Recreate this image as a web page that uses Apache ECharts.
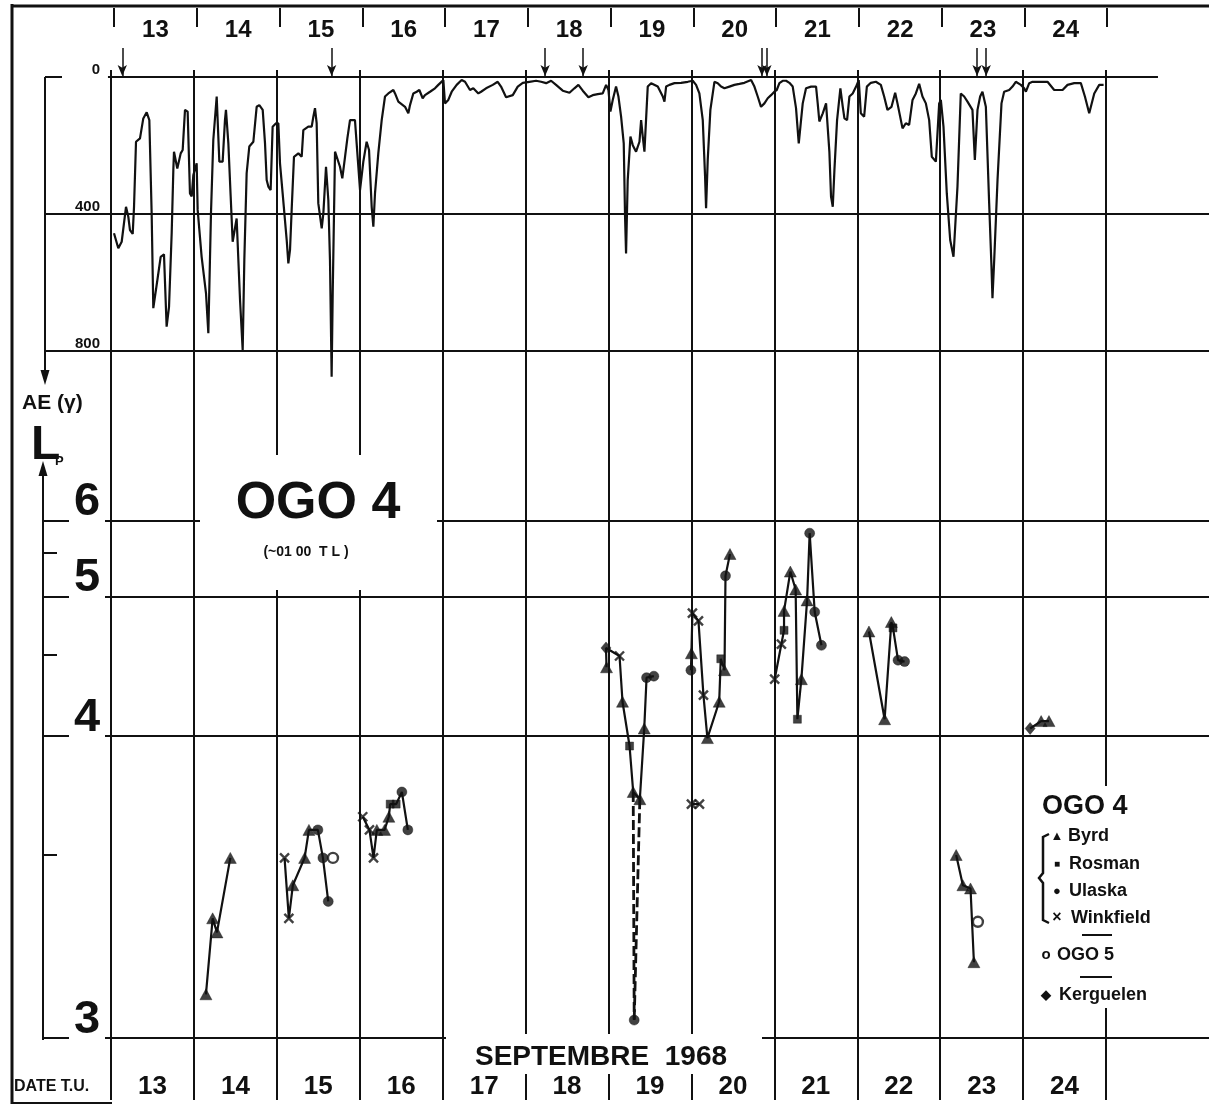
<!DOCTYPE html>
<html>
<head>
<meta charset="utf-8">
<title>AE et Lp - OGO 4, septembre 1968</title>
<script src="https://cdn.jsdelivr.net/npm/echarts@6/dist/echarts.min.js"></script>
<style>
html, body { margin: 0; padding: 0; background: #fff; }
#main { width: 1209px; height: 1106px; }
</style>
</head>
<body>
<div id="main"></div>
<script>
// jours de septembre 1968 (T.U.)
var dayTicks = [13, 14, 15, 16, 17, 18, 19, 20, 21, 22, 23, 24, 25];
var dayMid = [13.5, 14.5, 15.5, 16.5, 17.5, 18.5, 19.5, 20.5, 21.5, 22.5, 23.5, 24.5];

// graduations
var aeTicks = [0, 400, 800];
var lpMajor = [3, 4, 5, 6];
var lpMinor = [3.5, 4.5, 5.5];

// fleches au-dessus de la courbe AE (jour)
var aeArrows = [13.10, 15.63, 18.21, 18.67, 20.83, 20.89, 23.43, 23.54];

// indice AE (gammas) : [jour, AE]
var aeData = [
  [13.000,456],[13.052,500],[13.093,481],[13.145,379],[13.173,408],[13.193,447],[13.226,458],[13.242,379],
  [13.266,189],[13.314,179],[13.354,121],[13.395,103],[13.427,126],[13.455,398],[13.475,675],[13.524,593],
  [13.564,525],[13.604,518],[13.636,729],[13.665,671],[13.697,456],[13.717,272],[13.725,218],[13.765,267],
  [13.806,223],[13.830,213],[13.858,96],[13.890,101],[13.918,340],[13.939,349],[13.959,286],[13.999,252],
  [14.011,388],[14.059,525],[14.112,632],[14.140,748],[14.172,398],[14.200,184],[14.241,57],[14.273,247],
  [14.313,247],[14.341,126],[14.353,96],[14.382,194],[14.410,349],[14.434,481],[14.482,413],[14.523,651],
  [14.555,797],[14.575,534],[14.603,281],[14.635,203],[14.684,189],[14.724,87],[14.756,82],[14.797,96],
  [14.825,194],[14.845,301],[14.865,320],[14.893,330],[14.917,145],[14.958,135],[14.986,135],[15.006,252],
  [15.038,340],[15.087,476],[15.107,544],[15.127,505],[15.147,388],[15.175,233],[15.228,223],[15.268,233],
  [15.288,155],[15.348,145],[15.389,145],[15.409,116],[15.429,91],[15.449,135],[15.469,369],[15.510,442],
  [15.530,398],[15.562,262],[15.590,359],[15.610,534],[15.630,875],[15.643,632],[15.671,218],[15.691,218],
  [15.731,262],[15.759,296],[15.792,233],[15.820,179],[15.852,126],[15.912,126],[15.933,130],[15.973,330],
  [16.013,247],[16.053,189],[16.082,213],[16.114,379],[16.134,437],[16.154,340],[16.194,223],[16.235,126],
  [16.275,57],[16.315,48],[16.376,38],[16.396,48],[16.436,72],[16.456,67],[16.517,87],[16.557,106],
  [16.577,82],[16.617,48],[16.658,43],[16.690,38],[16.730,62],[16.758,53],[16.819,43],[16.879,33],
  [16.919,23],[16.980,9],[17.000,77],[17.040,67],[17.081,43],[17.141,23],[17.201,9],[17.242,14],
  [17.302,38],[17.342,33],[17.403,48],[17.436,43],[17.496,33],[17.577,23],[17.637,14],[17.677,28],
  [17.738,59],[17.819,53],[17.879,28],[17.940,17],[18.020,14],[18.101,11],[18.161,14],[18.222,18],
  [18.282,11],[18.342,23],[18.423,40],[18.504,46],[18.564,33],[18.612,23],[18.665,40],[18.733,59],
  [18.785,53],[18.846,50],[18.906,48],[18.947,23],[18.975,38],[18.999,101],[19.027,67],[19.067,28],
  [19.096,57],[19.128,116],[19.160,194],[19.176,408],[19.188,515],[19.208,301],[19.241,174],[19.269,199],
  [19.309,218],[19.350,189],[19.370,126],[19.390,174],[19.410,218],[19.450,28],[19.491,18],[19.571,28],
  [19.632,57],[19.652,72],[19.672,28],[19.712,23],[19.773,18],[19.853,17],[19.934,14],[19.994,11],
  [20.034,23],[20.074,48],[20.115,126],[20.143,291],[20.155,383],[20.175,242],[20.207,96],[20.256,14],
  [20.296,18],[20.336,28],[20.377,33],[20.437,28],[20.497,23],[20.558,20],[20.618,17],[20.699,9],
  [20.739,28],[20.779,57],[20.819,87],[20.860,77],[20.900,62],[20.940,53],[20.980,43],[21.009,38],
  [21.041,18],[21.081,11],[21.122,11],[21.162,17],[21.202,28],[21.242,91],[21.275,194],[21.295,145],
  [21.323,77],[21.363,33],[21.424,28],[21.484,28],[21.504,77],[21.524,130],[21.565,106],[21.605,77],
  [21.645,218],[21.665,349],[21.686,379],[21.706,272],[21.738,126],[21.778,33],[21.807,87],[21.827,121],
  [21.859,126],[21.887,57],[21.927,48],[21.968,28],[22.000,9],[22.025,106],[22.065,116],[22.098,28],
  [22.146,17],[22.207,14],[22.267,23],[22.307,57],[22.347,96],[22.396,87],[22.440,46],[22.468,77],
  [22.529,150],[22.569,135],[22.609,140],[22.650,67],[22.690,48],[22.730,20],[22.770,57],[22.811,77],
  [22.851,126],[22.883,233],[22.932,247],[22.972,77],[22.992,67],[23.024,145],[23.064,340],[23.105,476],
  [23.145,525],[23.193,320],[23.233,48],[23.274,57],[23.314,72],[23.374,96],[23.403,242],[23.435,96],
  [23.467,57],[23.495,43],[23.536,87],[23.576,369],[23.604,554],[23.616,646],[23.637,534],[23.677,301],
  [23.725,77],[23.757,43],[23.818,38],[23.858,28],[23.898,14],[23.959,23],[23.999,33],[24.020,43],
  [24.060,18],[24.100,14],[24.201,14],[24.281,14],[24.362,38],[24.463,38],[24.523,23],[24.604,18],
  [24.684,18],[24.733,57],[24.785,106],[24.846,48],[24.906,23],[24.959,23]
];

// Lp OGO 4 : [jour, Lp, station]  B=Byrd R=Rosman U=Ulaska W=Winkfield K=Kerguelen
var seg14 = [[14.145,3.10,'B'],[14.226,3.30,'B'],[14.278,3.26,'B'],[14.439,3.49,'B']];
var seg15 = [[15.093,3.49,'W'],[15.145,3.30,'W'],[15.193,3.40,'B'],[15.335,3.49,'B'],[15.387,3.59,'B'],
             [15.495,3.59,'U'],[15.556,3.49,'U'],[15.620,3.35,'U']];
var seg16 = [[16.036,3.64,'W'],[16.117,3.59,'W'],[16.166,3.49,'W'],[16.206,3.59,'B'],[16.299,3.59,'B'],
             [16.351,3.64,'B'],[16.367,3.69,'R'],[16.439,3.69,'R'],[16.508,3.74,'U'],[16.580,3.59,'U']];
var seg19 = [[18.976,4.41,'B'],[18.970,4.55,'K'],[19.133,4.49,'W'],[19.169,4.19,'B'],[19.254,3.95,'R'],
             [19.298,3.74,'B'],[19.378,3.71,'B'],[19.431,4.04,'B'],[19.459,4.34,'U'],[19.547,4.35,'U']];
var low19 = [19.310, 3.04, 'U'];
var seg20 = [[19.994,4.39,'U'],[20.000,4.51,'B'],[20.012,4.84,'W'],[20.085,4.77,'W'],[20.145,4.23,'W'],
             [20.193,3.99,'B'],[20.335,4.19,'B'],[20.354,4.47,'R'],[20.399,4.39,'B'],[20.411,5.22,'U'],
             [20.465,5.49,'B']];
var seg20b = [[20.000,3.69,'W'],[20.097,3.69,'W']];
var seg21 = [[21.004,4.33,'W'],[21.085,4.58,'W'],[21.117,4.69,'R'],[21.117,4.86,'B'],[21.193,5.27,'B'],
             [21.257,5.07,'B'],[21.278,4.09,'R'],[21.326,4.33,'B'],[21.395,4.96,'B'],[21.426,5.79,'U'],
             [21.487,4.85,'U'],[21.568,4.57,'U']];
var seg22 = [[22.141,4.68,'B'],[22.330,4.09,'B'],[22.411,4.76,'B'],[22.431,4.71,'R'],[22.492,4.46,'U'],
             [22.571,4.45,'U']];
var seg23 = [[23.193,3.50,'B'],[23.274,3.40,'B'],[23.366,3.39,'B'],[23.407,3.18,'B']];
var seg24 = [[24.085,4.04,'K'],[24.218,4.08,'B'],[24.312,4.08,'B']];
// OGO 5
var ogo5 = [[15.677,3.49],[23.455,3.29]];

var ink = '#111';
var sans = "'Liberation Sans', Arial, Helvetica, sans-serif";

// echelle Lp de la figure : lineaire en 1/L^2
function lp(L) { return 1 / (L * L); }
function tAt(py) { return 0.057923 + (py - 707.71) / 6212; }
function dayRange(leftPx, x13, x25) {
  var k = (x25 - x13) / 12;
  return [13 - (x13 - leftPx) / k, 25 + (1209 - x25) / k];
}
var topRange = dayRange(45, 114, 1107);
var lowRange = dayRange(105, 111, 1106);

var stations = {
  B: {name: 'Byrd', symbol: 'triangle', size: [12, 11]},
  R: {name: 'Rosman', symbol: 'rect', size: 8},
  U: {name: 'Ulaska', symbol: 'circle', size: 10},
  W: {name: 'Winkfield', symbol: 'path://M0,0L10,10M10,0L0,10', size: 9},
  K: {name: 'Kerguelen', symbol: 'diamond', size: [10, 12]}
};

var segments = [seg14, seg15, seg16, seg19, seg20, seg20b, seg21, seg22, seg23, seg24];
var series = [];

series.push({
  name: 'AE', type: 'line', xAxisIndex: 0, yAxisIndex: 0,
  data: aeData, symbol: 'none', lineStyle: {color: ink, width: 2.2}, z: 3,
  markLine: {
    silent: true, animation: false, label: {show: false},
    lineStyle: {color: ink, width: 2, type: 'solid'},
    data: [[{coord: [12.927, 0], symbol: 'none'}, {coord: [25.616, 0], symbol: 'none'}]].concat(
      aeArrows.map(function (d) {
        return [{coord: [d, -85], symbol: 'none'},
                {coord: [d, -3], symbol: 'arrow', symbolSize: [7, 11], lineStyle: {width: 1.5}}];
      }))
  }
});

segments.forEach(function (seg) {
  series.push({
    type: 'line', xAxisIndex: 1, yAxisIndex: 1, symbol: 'none', z: 3,
    data: seg.map(function (p) { return [p[0], lp(p[1])]; }),
    lineStyle: {color: ink, width: 2.2}
  });
});

// tirets vers le point bas du 19
[seg19[5], seg19[6]].forEach(function (p) {
  series.push({
    type: 'line', xAxisIndex: 1, yAxisIndex: 1, symbol: 'none', z: 3,
    data: [[p[0], lp(p[1])], [low19[0], lp(low19[1])]],
    lineStyle: {color: ink, width: 2.8, type: [10, 4]}
  });
});

var allPts = [].concat.apply([], segments).concat([low19]);
Object.keys(stations).forEach(function (code) {
  var st = stations[code];
  var isCross = code === 'W';
  series.push({
    name: st.name, type: 'scatter', xAxisIndex: 1, yAxisIndex: 1, z: 4,
    symbol: st.symbol, symbolSize: st.size,
    itemStyle: isCross ? {color: 'none', borderColor: ink, borderWidth: 2.4}
                       : {color: ink, borderColor: ink, borderWidth: 0.5},
    data: allPts.filter(function (p) { return p[2] === code; })
                .map(function (p) { return [p[0], lp(p[1])]; })
  });
});

series.push({
  name: 'OGO 5', type: 'scatter', xAxisIndex: 1, yAxisIndex: 1, z: 4,
  symbol: 'circle', symbolSize: 10,
  itemStyle: {color: '#fff', borderColor: ink, borderWidth: 2.4},
  data: ogo5.map(function (p) { return [p[0], lp(p[1])]; })
});

function txt(x, y, text, size, align, extra) {
  var o = {type: 'text', x: x, y: y, z: 20,
    style: {text: text, fill: ink, fontSize: size, fontWeight: 'bold', fontFamily: sans,
            align: align || 'left', verticalAlign: 'middle'}};
  if (extra) { for (var k in extra) o.style[k] = extra[k]; }
  return o;
}
function seg(x1, y1, x2, y2, w) {
  return {type: 'line', z: 20, shape: {x1: x1, y1: y1, x2: x2, y2: y2}, style: {stroke: ink, lineWidth: w || 2}};
}
function tri(points) {
  return {type: 'polygon', z: 20, shape: {points: points}, style: {fill: ink}};
}

var graphics = [
  // cadre
  seg(12, 4, 12, 1104, 3),
  seg(12, 6, 1209, 6, 3),
  seg(12, 1103, 112, 1103, 2),
  // axe AE
  seg(45, 77, 45, 372, 2),
  seg(45, 77, 62, 77, 2),
  tri([[40.5, 370], [49.5, 370], [45, 385]]),
  // axe Lp
  seg(43, 1040, 43, 474, 2),
  tri([[38.5, 476], [47.5, 476], [43, 461]]),
  txt(22, 403, 'AE (\u03b3)', 21),
  txt(31, 446, 'L', 48),
  txt(55, 461, 'P', 13),
  // cartouche OGO 4
  {type: 'rect', z: 10, shape: {x: 200, y: 455, width: 237, height: 135}, style: {fill: '#fff'}},
  txt(318, 504, 'OGO 4', 52, 'center'),
  txt(306, 552, '(~01 00  T L )', 14, 'center'),
  // titre bas
  {type: 'rect', z: 10, shape: {x: 446, y: 1034, width: 316, height: 40}, style: {fill: '#fff'}},
  txt(601, 1057, 'SEPTEMBRE  1968', 28, 'center'),
  txt(14, 1087, 'DATE T.U.', 16),
  // legende
  {type: 'rect', z: 10, shape: {x: 1030, y: 786, width: 179, height: 222}, style: {fill: '#fff'}},
  txt(1042, 807, 'OGO 4', 27),
  {type: 'polyline', z: 20, shape: {points: [[1049, 834], [1043, 837], [1043, 873], [1039, 878], [1043, 883], [1043, 920], [1049, 923]]},
   style: {stroke: ink, lineWidth: 2.5, fill: null}},
  txt(1057, 836, '\u25b2', 13, 'center'),
  txt(1068, 836, 'Byrd', 18),
  txt(1057, 864, '\u25a0', 10, 'center'),
  txt(1069, 864, 'Rosman', 18),
  txt(1057, 891, '\u25cf', 13, 'center'),
  txt(1069, 891, 'Ulaska', 18),
  txt(1057, 918, '\u00d7', 16, 'center'),
  txt(1071, 918, 'Winkfield', 18),
  seg(1082, 935, 1112, 935, 2),
  txt(1046, 955, 'o', 15, 'center'),
  txt(1057, 955, 'OGO 5', 18),
  seg(1080, 977, 1112, 977, 2),
  txt(1046, 995, '\u25c6', 13, 'center'),
  txt(1059, 995, 'Kerguelen', 18)
];

var chart = echarts.init(document.getElementById('main'));
var option = {
  animation: false,
  backgroundColor: '#fff',
  grid: [
    {left: 45, right: 0, top: 42.75, bottom: 1106 - 385.25},
    {left: 105, right: 0, top: 70, bottom: 6}
  ],
  xAxis: [
    {
      type: 'value', gridIndex: 0, position: 'top', offset: 15.75,
      min: topRange[0], max: topRange[1],
      axisLine: {show: false, onZero: false},
      axisTick: {show: true, customValues: dayTicks, length: 19, lineStyle: {color: ink, width: 2}},
      axisLabel: {customValues: dayMid, margin: -3, verticalAlign: 'middle',
                  formatter: function (v) { return Math.floor(v); },
                  color: ink, fontSize: 24, fontWeight: 'bold', fontFamily: sans},
      splitLine: {show: false}
    },
    {
      type: 'value', gridIndex: 1, position: 'bottom',
      min: lowRange[0], max: lowRange[1],
      axisLine: {show: false, onZero: false},
      axisTick: {show: false, customValues: dayTicks},
      axisLabel: {customValues: dayMid, inside: true, margin: 13, verticalAlign: 'middle',
                  formatter: function (v) { return Math.floor(v); },
                  color: ink, fontSize: 26, fontWeight: 'bold', fontFamily: sans},
      splitLine: {show: true, lineStyle: {color: ink, width: 2}}
    }
  ],
  yAxis: [
    {
      type: 'value', gridIndex: 0, inverse: true, min: -100, max: 900,
      axisLine: {show: false, onZero: false},
      axisTick: {show: false, customValues: [400, 800]},
      axisLabel: {customValues: aeTicks, inside: true, align: 'right', margin: 55,
                  verticalAlign: 'bottom', lineHeight: 14,
                  color: ink, fontSize: 15, fontWeight: 'bold', fontFamily: sans},
      splitLine: {show: true, lineStyle: {color: ink, width: 2}}
    },
    {
      type: 'value', gridIndex: 1, inverse: true, position: 'left', offset: 62,
      min: tAt(70), max: tAt(1100),
      axisLine: {show: false, onZero: false},
      axisTick: {show: true, inside: true, length: 26, customValues: lpMajor.map(lp),
                 lineStyle: {color: ink, width: 2}},
      axisLabel: {customValues: lpMajor.map(lp), inside: true, margin: 31,
                  verticalAlign: 'bottom', lineHeight: 36,
                  formatter: function (v) { return Math.round(1 / Math.sqrt(v)); },
                  color: ink, fontSize: 47, fontWeight: 'bold', fontFamily: sans},
      splitLine: {show: true, lineStyle: {color: ink, width: 2}}
    },
    {
      type: 'value', gridIndex: 1, inverse: true, position: 'left', offset: 62,
      min: tAt(70), max: tAt(1100),
      axisLine: {show: false, onZero: false},
      axisTick: {show: true, inside: true, length: 14, customValues: lpMinor.map(lp),
                 lineStyle: {color: ink, width: 2}},
      axisLabel: {show: false},
      splitLine: {show: false}
    }
  ],
  graphic: graphics,
  series: series
};
chart.setOption(option);
</script>
</body>
</html>
